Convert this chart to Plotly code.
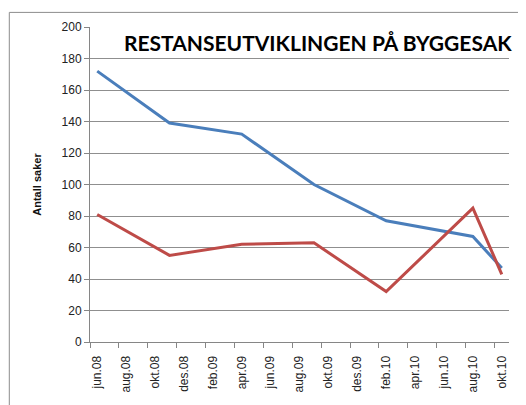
import plotly.graph_objects as go

# ---- data ----
all_months = ["jun.08", "jul.08", "aug.08", "sep.08", "okt.08", "nov.08", "des.08",
              "jan.09", "feb.09", "mar.09", "apr.09", "mai.09", "jun.09", "jul.09",
              "aug.09", "sep.09", "okt.09", "nov.09", "des.09", "jan.10", "feb.10",
              "mar.10", "apr.10", "mai.10", "jun.10", "jul.10", "aug.10", "sep.10", "okt.10"]
tick_labels = all_months[::2]
point_months = ["jun.08", "nov.08", "apr.09", "sep.09", "feb.10", "aug.10", "okt.10"]
series_blue = [172, 139, 132, 100, 77, 67, 47]
series_red = [81, 55, 62, 63, 32, 85, 43]

x_idx = [all_months.index(m) for m in point_months]
tick_idx = [all_months.index(m) for m in tick_labels]
boundaries = [i - 0.5 for i in tick_idx]

W, H = 526, 405
OFF = 8  # page body margin
ml, mr, mt, mb = 90 - OFF, 17 + OFF, 25 - OFF, 63 + OFF
pw, ph = W - ml - mr, H - mt - mb

fig = go.Figure()
fig.add_trace(go.Scatter(x=x_idx, y=series_blue, mode="lines",
                         line=dict(color="#4A7EBB", width=3), showlegend=False))
fig.add_trace(go.Scatter(x=x_idx, y=series_red, mode="lines",
                         line=dict(color="#BE4B48", width=3), showlegend=False))

font_fam = "Liberation Sans, Arial, sans-serif"
fig.update_layout(
    width=W, height=H,
    margin=dict(l=ml, r=mr, t=mt, b=mb),
    paper_bgcolor="white", plot_bgcolor="white",
    font=dict(family=font_fam, size=11, color="#222"),
    xaxis=dict(range=[-0.5, len(all_months) - 0.5], tickmode="array",
               tickvals=tick_idx, ticktext=tick_labels, tickangle=-90,
               ticks="outside", ticklen=8, tickcolor="rgba(0,0,0,0)",
               showgrid=False, zeroline=False, showline=True,
               linecolor="#868686", linewidth=1,
               tickfont=dict(size=12, color="#222"),
               minor=dict(tickmode="array", tickvals=boundaries, ticks="outside",
                          ticklen=5, tickcolor="#868686", showgrid=False)),
    yaxis=dict(range=[0, 200], tickmode="array", tickvals=list(range(0, 201, 20)),
               ticks="outside", ticklen=5, tickcolor="#868686",
               showgrid=True, gridcolor="#8f8f8f", gridwidth=1,
               zeroline=False, showline=True, linecolor="#868686", linewidth=1,
               tickfont=dict(size=12, color="#222"),
               title=dict(text="<b>Antall saker</b>", font=dict(size=11, color="#111"),
                          standoff=17)),
)

fig.add_annotation(text="<b>RESTANSEUTVIKLINGEN PÅ BYGGESAK</b>",
                   xref="paper", yref="paper",
                   x=(122 - OFF - ml) / pw, y=(H - mb - (41 - OFF)) / ph,
                   xanchor="left", yanchor="middle", showarrow=False,
                   font=dict(family="Lato, sans-serif", size=21, color="#000"))

fig.add_shape(type="rect", xref="paper", yref="paper",
              x0=(9.3 - OFF - ml) / pw, x1=1.3, y0=-0.5, y1=(H - mb - (10.3 - OFF)) / ph,
              line=dict(color="#8c8c8c", width=1), layer="below")

fig.write_html("out.html")
